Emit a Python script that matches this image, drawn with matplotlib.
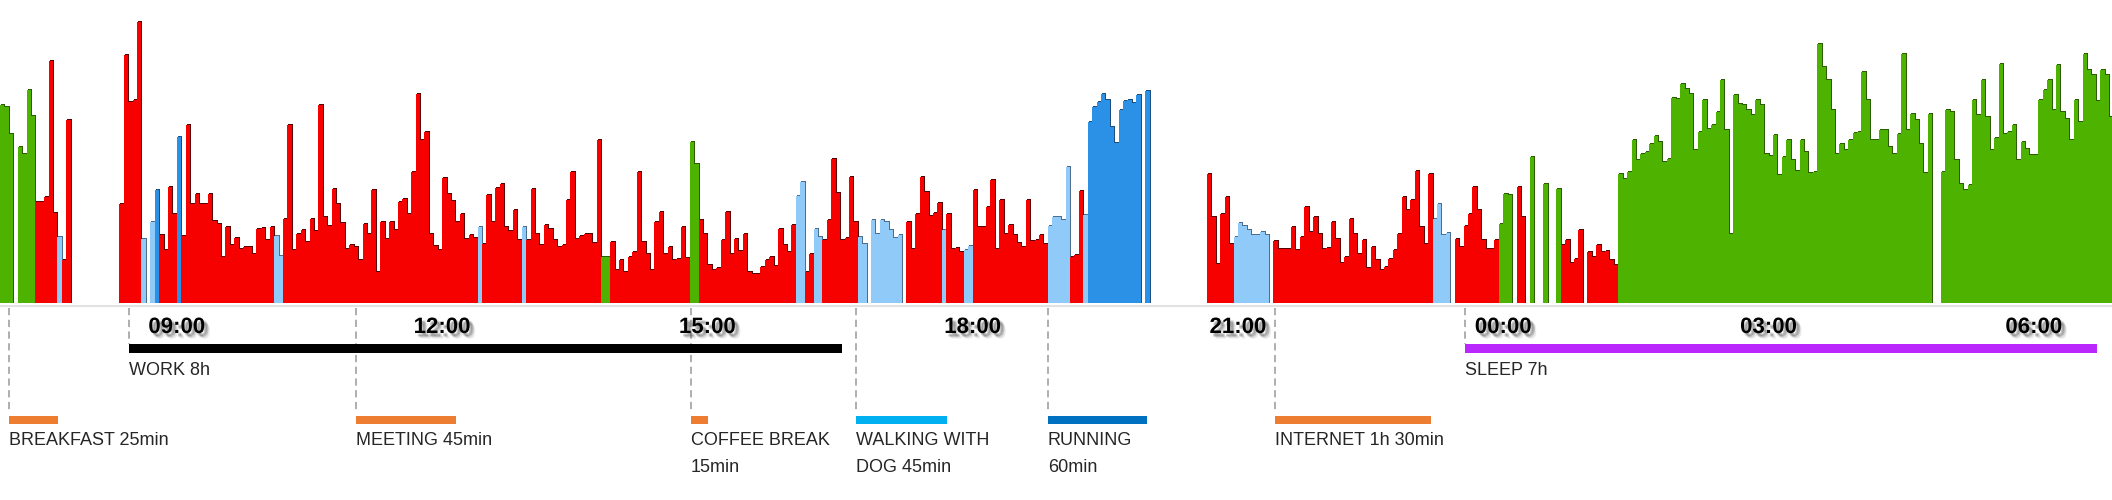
import matplotlib
matplotlib.use("Agg")
import matplotlib.pyplot as plt
import matplotlib.patheffects as pe
import numpy as np

# ---------------- data ----------------
START_HOUR = 7.0      # first bin starts at 07:00
BIN_MINUTES = 3       # one bar = 3 minutes

# activity level per 3-minute bin (0 = no data)
levels_morning = [  # 07:00 - 13:00
    198, 196, 169, 0, 156, 149, 213, 187, 101, 101,
    106, 242, 90, 66, 43, 183, 0, 0, 0, 0,
    0, 0, 0, 0, 0, 0, 0, 99, 248, 201,
    203, 281, 64, 0, 81, 113, 68, 53, 116, 89,
    166, 67, 178, 99, 109, 99, 99, 109, 82, 79,
    46, 76, 58, 65, 54, 56, 56, 49, 74, 75,
    63, 76, 67, 47, 84, 178, 53, 69, 73, 61,
    84, 72, 198, 86, 77, 114, 99, 80, 54, 58,
    56, 43, 79, 69, 113, 31, 81, 64, 81, 73,
    101, 104, 89, 131, 209, 163, 171, 69, 57, 53,
    125, 109, 102, 81, 89, 64, 68, 65, 76, 59,
    108, 81, 115, 119, 76, 72, 93, 63, 76, 63,
]
levels_afternoon = [  # 13:00 - 19:00
    114, 69, 58, 78, 74, 63, 56, 58, 103, 131,
    64, 67, 69, 69, 60, 163, 46, 46, 61, 33,
    43, 31, 46, 51, 131, 61, 49, 33, 81, 91,
    49, 56, 43, 44, 76, 45, 161, 139, 83, 69,
    38, 33, 35, 63, 91, 49, 64, 52, 69, 31,
    29, 29, 36, 43, 46, 37, 74, 58, 51, 78,
    107, 121, 31, 49, 74, 66, 63, 83, 144, 110,
    63, 65, 126, 81, 66, 59, 0, 83, 69, 83,
    81, 73, 65, 68, 0, 81, 54, 89, 126, 111,
    87, 90, 100, 73, 89, 54, 55, 51, 53, 57,
    113, 76, 76, 96, 123, 54, 103, 69, 78, 68,
    60, 56, 103, 62, 63, 68, 59, 77, 86, 86,
]
levels_evening = [  # 19:00 - 01:00
    83, 136, 46, 48, 112, 88, 181, 196, 201, 209,
    203, 176, 160, 193, 202, 203, 200, 208, 0, 212,
    0, 0, 0, 0, 0, 0, 0, 0, 0, 0,
    0, 0, 0, 129, 86, 39, 89, 106, 59, 66,
    80, 77, 73, 68, 68, 71, 68, 0, 62, 54,
    54, 54, 76, 53, 66, 96, 71, 86, 69, 54,
    55, 81, 64, 40, 46, 84, 69, 49, 63, 35,
    56, 43, 33, 36, 44, 53, 69, 106, 93, 103,
    132, 76, 59, 129, 84, 99, 68, 70, 0, 64,
    56, 77, 89, 116, 93, 63, 54, 54, 63, 79,
    109, 108, 0, 116, 86, 0, 146, 0, 0, 119,
    0, 0, 114, 58, 63, 40, 44, 73, 0, 51,
]
levels_night = [  # 01:00 - 06:54
    46, 58, 51, 52, 43, 38, 129, 124, 131, 163,
    143, 149, 151, 159, 167, 161, 141, 144, 205, 204,
    219, 214, 209, 153, 171, 203, 174, 178, 191, 223,
    173, 69, 208, 199, 198, 193, 188, 203, 198, 149,
    147, 168, 128, 146, 163, 143, 132, 163, 151, 130,
    131, 259, 236, 223, 193, 149, 159, 153, 163, 170,
    171, 231, 203, 163, 163, 173, 173, 156, 149, 169,
    249, 173, 189, 183, 159, 130, 189, 0, 0, 131,
    193, 191, 143, 119, 113, 118, 203, 188, 223, 186,
    153, 165, 239, 169, 171, 178, 143, 161, 154, 148,
    148, 203, 213, 223, 193, 238, 191, 184, 163, 203,
    181, 249, 233, 228, 202, 233, 228, 186,
]

# zone per bin: g = rest, r = stress, l = light activity, b = intense, - = none
zones_morning = ("ggg-ggggrr" "rrrlrr----" "-------rrr" "rrl-lbrrrr"
                 "brrrrrrrrr" "rrrrrrrrrr" "rrllrrrrrr" "rrrrrrrrrr"
                 "rrrrrrrrrr" "rrrrrrrrrr" "rrrrrrrrlr" "rrrrrrrrlr")
zones_afternoon = ("rrrrrrrrrr" "rrrrrrggrr" "rrrrrrrrrr" "rrrrrrggrr"
                   "rrrrrrrrrr" "rrrrrrrrrr" "llrrllrrrr" "rrrrll-lll"
                   "llll-rrrrr" "rrrlrrrrll" "rrrrrrrrrr" "rrrrrrrlll")
zones_evening = ("llrrrlbbbb" "bbbbbbbb-b" "----------" "---rrrrrrl"
                 "lllllll-rr" "rrrrrrrrrr" "rrrrrrrrrr" "rrrrrrrrrr"
                 "rrrrllll-r" "rrrrrrrrrg" "gg-rr-g--g" "--grrrrr-r")
zones_night = ("rrrrrrgggg" + "g" * 60 + "ggggggg--g" + "g" * 38)

hour_ticks = [9, 12, 15, 18, 21, 24, 27, 30]
hour_labels = ["09:00", "12:00", "15:00", "18:00", "21:00", "00:00", "03:00", "06:00"]

# long activities (hours since midnight of day 1)
long_names = ["WORK 8h", "SLEEP 7h"]
long_start = [8.46, 23.57]
long_end = [16.52, 30.71]
long_colors = ["#000000", "#B927FC"]

# short activities
act_line1 = ["BREAKFAST 25min", "MEETING 45min", "COFFEE BREAK", "WALKING WITH", "RUNNING", "INTERNET 1h 30min"]
act_line2 = ["", "", "15min", "DOG 45min", "60min", ""]
act_start = [7.10, 11.03, 14.81, 16.68, 18.85, 21.42]
act_end = [7.66, 12.16, 15.01, 17.71, 19.97, 23.18]
act_colors = ["#ED7D31", "#ED7D31", "#ED7D31", "#00B0F0", "#0070C0", "#ED7D31"]

# ---------------- styling ----------------
zone_color = {"g": "#4DB300", "r": "#F60000", "l": "#90CAF9", "b": "#2A91E6"}
zone_dark = {"g": "#2B5E00", "r": "#5A0000", "l": "#4D6F8F", "b": "#1A4F80"}

W, H = 2112, 500
BASE = 302.7          # pixel row of the bar baseline (from top)
PX_PER_HOUR = 88.43

fig = plt.figure(figsize=(W / 100, H / 100), dpi=100)
ax = fig.add_axes([0, 1 - BASE / H, 1, BASE / H])
ax2 = fig.add_axes([0, 0, 1, 1 - BASE / H])
xmax = START_HOUR + W / PX_PER_HOUR
for a in (ax, ax2):
    a.set_xlim(START_HOUR, xmax)
    a.axis("off")
ax.set_ylim(0, BASE)
ax2.set_ylim(H, BASE)

levels = np.array(levels_morning + levels_afternoon + levels_evening + levels_night, dtype=float)
zones = zones_morning + zones_afternoon + zones_evening + zones_night
n = min(len(levels), len(zones))
levels = levels[:n]
zones = zones[:n]
bw = BIN_MINUTES / 60.0
x = START_HOUR + np.arange(n) * bw
valid = np.array([z != "-" and lv > 0 for z, lv in zip(zones, levels)])
xs = x[valid]
lv = levels[valid]
zs = [z for z, v in zip(zones, valid) if v]

# dark edge (shadow) then the coloured bars
dx = 1.0 / PX_PER_HOUR
ax.bar(xs + dx, lv + 1.0, width=bw, align="edge", color=[zone_dark[z] for z in zs],
       linewidth=0, antialiased=False, zorder=1)
ax.bar(xs, lv, width=bw, align="edge", color=[zone_color[z] for z in zs],
       linewidth=0, antialiased=False, zorder=2)

# axis line
ax2.axhline(305.5, color="#E2E2E2", lw=1.5, zorder=1)

# hour labels with soft shadow
shadow = []
for ox, oy, al in [(3, -3, 0.18), (2, -2, 0.22), (4, -4, 0.12), (3, -2, 0.15), (2, -3, 0.15)]:
    shadow.append(pe.SimplePatchShadow(offset=(ox, oy), shadow_rgbFace="#555555", alpha=al))
shadow.append(pe.Normal())
for h, lab in zip(hour_ticks, hour_labels):
    ax2.text(h, 333, lab, ha="center", va="baseline", fontsize=16, fontweight="bold",
             family=["Liberation Sans", "DejaVu Sans"], color="#000000", path_effects=shadow)

label_kw = dict(fontsize=13, family=["Liberation Sans", "DejaVu Sans"], color="#262626",
                ha="left", va="baseline")
dash_kw = dict(color="#A8A8A8", lw=1.3, dashes=(4, 2.5), zorder=1)

# long activities
for name, s, e, c in zip(long_names, long_start, long_end, long_colors):
    ax2.plot([s, s], [308, 344], **dash_kw)
    ax2.barh(348.5, e - s, left=s, height=9, color=c, linewidth=0, zorder=2)
    ax2.text(s, 375, name, **label_kw)

# short activities
for l1, l2, s, e, c in zip(act_line1, act_line2, act_start, act_end, act_colors):
    ax2.plot([s, s], [308, 413], **dash_kw)
    ax2.barh(419.5, e - s, left=s, height=8, color=c, linewidth=0, zorder=2)
    ax2.text(s, 445, l1, **label_kw)
    if l2:
        ax2.text(s, 472, l2, **label_kw)

fig.savefig("out.png", dpi=100, facecolor="white")
